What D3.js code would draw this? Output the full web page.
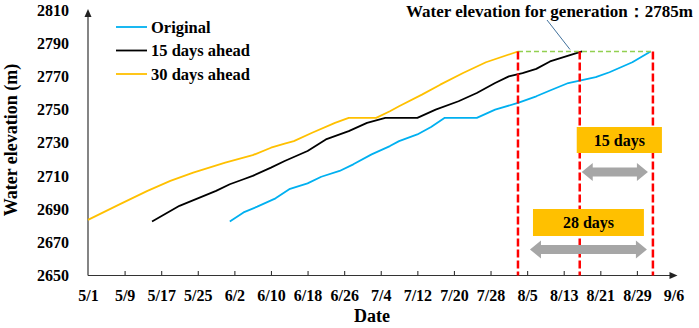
<!DOCTYPE html>
<html>
<head>
<meta charset="utf-8">
<script src="https://cdn.jsdelivr.net/npm/d3@7"></script>
<style>
  body { margin: 0; background: #fff; }
  svg text { font-family: "Times New Roman", "Liberation Serif", serif; font-weight: bold; fill: #000; }
</style>
</head>
<body>
<div id="chart"></div>
<script>
// dates are month/day, elevations in metres
const originalDates = ["6/1","6/4","6/7","6/11","6/14","6/18","6/21","6/25","6/28","7/2","7/6","7/8","7/12","7/15","7/18","7/25","7/29","8/3","8/7","8/10","8/14","8/20","8/23","8/28","9/1"];
const originalValues = [2682.5,2688,2691.5,2696.5,2702,2705.5,2709.5,2713,2717,2723,2728,2731,2735,2739.5,2745,2745,2750,2754,2758,2761.5,2766,2769.5,2772.5,2778.5,2785];

const ahead15Dates = ["5/15","5/21","5/29","6/1","6/4","6/6","6/10","6/13","6/18","6/22","6/27","7/1","7/5","7/12","7/16","7/21","7/25","7/29","8/1","8/4","8/7","8/10","8/17"];
const ahead15Values = [2682.5,2692,2701,2705,2708,2710,2715,2719,2725,2732,2737,2742,2745,2745,2750,2755,2760,2766,2770,2772,2774.5,2779,2785];

const ahead30Dates = ["5/1","5/8","5/14","5/19","5/24","5/31","6/4","6/6","6/10","6/13","6/15","6/19","6/24","6/27","7/3","7/6","7/8","7/13","7/17","7/22","7/27","8/3"];
const ahead30Values = [2683.5,2693,2701,2707,2712,2718,2721,2722.5,2727,2729.5,2731,2736,2742,2745,2745,2749,2752,2759,2765,2772,2778.5,2785];

const xTickLabels = ["5/1","5/9","5/17","5/25","6/2","6/10","6/18","6/26","7/4","7/12","7/20","7/28","8/5","8/13","8/21","8/29","9/6"];
const yTicks = [2650,2670,2690,2710,2730,2750,2770,2790,2810];

const generationLevel = 2785;
const redLineDates = ["2020-08-03T00:00Z","2020-08-16T12:00Z","2020-09-01T12:00Z"];

const seriesNames = ["Original","15 days ahead","30 days ahead"];
const seriesColors = ["#00b0f0","#000000","#ffc000"];

const parseMD = s => { const [m, d] = s.split("/").map(Number); return new Date(Date.UTC(2020, m - 1, d)); };

const series = [
  { name: seriesNames[0], color: seriesColors[0], pts: originalDates.map((d, i) => ({ date: parseMD(d), v: originalValues[i] })) },
  { name: seriesNames[1], color: seriesColors[1], pts: ahead15Dates.map((d, i) => ({ date: parseMD(d), v: ahead15Values[i] })) },
  { name: seriesNames[2], color: seriesColors[2], pts: ahead30Dates.map((d, i) => ({ date: parseMD(d), v: ahead30Values[i] })) }
];

const W = 699, H = 328;
const svg = d3.select("#chart").append("svg").attr("width", W).attr("height", H);

const x = d3.scaleUtc()
  .domain([parseMD("5/1"), parseMD("9/6")])
  .range([88, 673.5]);
const y = d3.scaleLinear()
  .domain([2650, 2810])
  .range([275.5, 10]);

// y axis labels
const yAxis = svg.append("g")
  .attr("transform", "translate(" + x.range()[0] + ",0)")
  .call(d3.axisLeft(y).tickValues(yTicks).tickSize(0).tickPadding(19).tickFormat(d3.format("d")));
yAxis.select(".domain").remove();
yAxis.selectAll("text").style("font-size", "16px");

// x axis, ticks point up
const xAxis = svg.append("g")
  .attr("transform", "translate(0," + y(2650) + ")")
  .call(d3.axisBottom(x).tickValues(xTickLabels.map(parseMD)).tickSize(-4.5).tickPadding(14)
    .tickFormat(d3.utcFormat("%-m/%-d")));
xAxis.select(".domain").remove();
xAxis.selectAll("line").attr("stroke", "#333").attr("stroke-width", 1.1);
xAxis.selectAll(".tick").filter((d, i) => i === 0 || i === xTickLabels.length - 1).select("line").remove();
xAxis.selectAll("text").style("font-size", "16px");

// axis lines with arrows
const x0 = x.range()[0], yb = y(2650);
svg.append("line").attr("x1", x0).attr("x2", x0).attr("y1", yb).attr("y2", 14)
  .attr("stroke", "#333").attr("stroke-width", 1.2);
svg.append("path").attr("d", `M${x0},${9} L${x0 - 3.5},${17} L${x0 + 3.5},${17} Z`).attr("fill", "#222");
const xEnd = x.range()[1] + 4;
svg.append("line").attr("x1", x0).attr("x2", xEnd - 4).attr("y1", yb).attr("y2", yb)
  .attr("stroke", "#333").attr("stroke-width", 1.2);
svg.append("path").attr("d", `M${xEnd},${yb} L${xEnd - 8},${yb - 3.5} L${xEnd - 8},${yb + 3.5} Z`).attr("fill", "#222");

// axis titles
svg.append("text").attr("x", 372).attr("y", 322).attr("text-anchor", "middle")
  .style("font-size", "18px").text("Date");
svg.append("text").attr("transform", "translate(17,140) rotate(-90)").attr("text-anchor", "middle")
  .style("font-size", "18px").text("Water elevation (m)");

// series lines
const line = d3.line().x(d => x(d.date)).y(d => y(d.v));
svg.selectAll(".series").data(series).enter().append("path")
  .attr("class", "series")
  .attr("d", d => line(d.pts))
  .attr("fill", "none")
  .attr("stroke", d => d.color)
  .attr("stroke-width", 1.8)
  .attr("stroke-linejoin", "round");

// generation level
const redX = redLineDates.map(s => x(new Date(s)));
svg.append("line")
  .attr("x1", redX[0]).attr("x2", redX[2])
  .attr("y1", y(generationLevel)).attr("y2", y(generationLevel))
  .attr("stroke", "#92d050").attr("stroke-width", 1.5).attr("stroke-dasharray", "5,3");
svg.selectAll(".red").data(redX).enter().append("line")
  .attr("x1", d => d).attr("x2", d => d)
  .attr("y1", y(generationLevel)).attr("y2", yb)
  .attr("stroke", "#ff0000").attr("stroke-width", 2.5).attr("stroke-dasharray", "8,3");

// annotation
svg.append("line").attr("x1", 547).attr("y1", 20).attr("x2", 570).attr("y2", y(generationLevel) - 2)
  .attr("stroke", "#41719c").attr("stroke-width", 1);
svg.append("text").attr("x", 549.5).attr("y", 17).attr("text-anchor", "middle")
  .style("font-size", "17px").text("Water elevation for generation：2785m");

// day boxes and double arrows
function dblArrow(xa, xb, yc) {
  const hb = 4.5, hh = 9, hl = 11;
  svg.append("path")
    .attr("d", `M${xa},${yc} L${xa + hl},${yc - hh} L${xa + hl},${yc - hb} L${xb - hl},${yc - hb} L${xb - hl},${yc - hh} L${xb},${yc} L${xb - hl},${yc + hh} L${xb - hl},${yc + hb} L${xa + hl},${yc + hb} L${xa + hl},${yc + hh} Z`)
    .attr("fill", "#a6a6a6");
}
function dayBox(xa, xb, ya, yb2, label) {
  svg.append("rect").attr("x", xa).attr("y", ya).attr("width", xb - xa).attr("height", yb2 - ya).attr("fill", "#ffc000");
  svg.append("text").attr("x", (xa + xb) / 2).attr("y", (ya + yb2) / 2).attr("dy", "0.35em")
    .attr("text-anchor", "middle").style("font-size", "16px").text(label);
}
dayBox(redX[1] - 3, redX[2] + 9, 127, 153, "15 days");
dblArrow(redX[1] + 2, redX[2] - 5, 172);
dayBox(redX[0] + 15, redX[2] - 9, 209, 236, "28 days");
dblArrow(redX[0] + 12, redX[2] - 6, 249.5);

// legend
const lg = svg.append("g");
series.forEach((s, i) => {
  const ly = 27 + i * 23.5;
  lg.append("line").attr("x1", 116).attr("x2", 147).attr("y1", ly).attr("y2", ly)
    .attr("stroke", s.color).attr("stroke-width", 1.8);
  lg.append("text").attr("x", 151).attr("y", ly).attr("dy", "0.35em")
    .style("font-size", "16.5px").text(s.name);
});
</script>
</body>
</html>
